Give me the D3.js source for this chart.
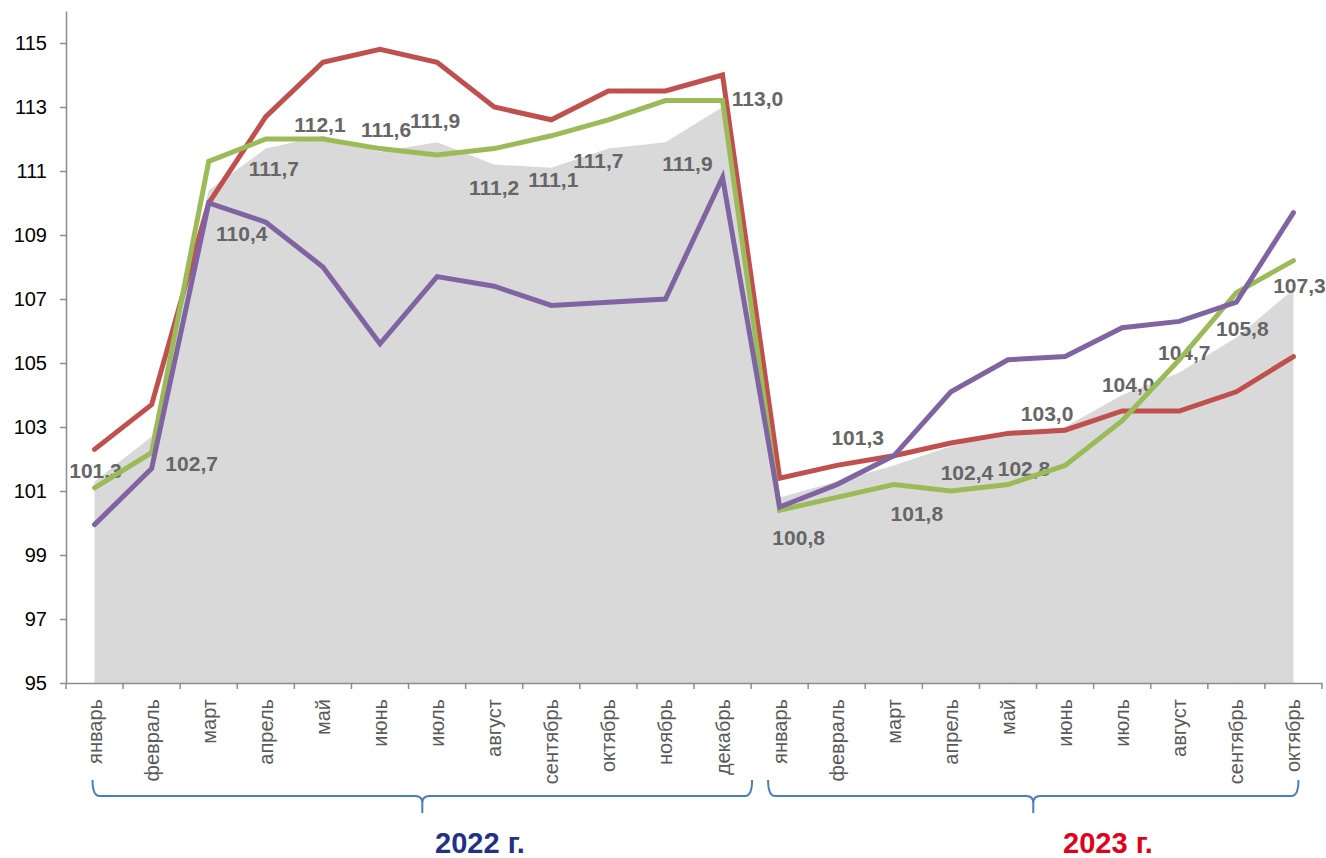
<!DOCTYPE html>
<html><head><meta charset="utf-8">
<script src="https://cdn.jsdelivr.net/npm/d3@7/dist/d3.min.js"></script>
<style>
html,body{margin:0;padding:0;background:#fff;}
svg{display:block;font-family:"Liberation Sans",Arial,sans-serif;}
</style></head>
<body><svg id="chart" width="1326" height="858"></svg>
<script>
const months2022 = ["январь","февраль","март","апрель","май","июнь","июль","август","сентябрь","октябрь","ноябрь","декабрь"];
const months2023 = ["январь","февраль","март","апрель","май","июнь","июль","август","сентябрь","октябрь"];
const years = ["2022 г.","2023 г."];
const areaValues = [101.3,102.7,110.4,111.7,112.1,111.6,111.9,111.2,111.1,111.7,111.9,113.0,
                    100.8,101.3,101.8,102.4,102.8,103.0,104.0,104.7,105.8,107.3];
const redValues = [102.3,103.7,110.0,112.7,114.4,114.8,114.4,113.0,112.6,113.5,113.5,114.0,
                   101.4,101.8,102.1,102.5,102.8,102.9,103.5,103.5,104.1,105.2];
const greenValues = [101.1,102.2,111.3,112.0,112.0,111.7,111.5,111.7,112.1,112.6,113.2,113.2,
                     100.4,100.8,101.2,101.0,101.2,101.8,103.2,105.1,107.2,108.2];
const purpleValues = [99.95,101.7,110.0,109.4,108.0,105.6,107.7,107.4,106.8,106.9,107.0,110.8,
                      100.5,101.2,102.1,104.1,105.1,105.2,106.1,106.3,106.9,109.7];
const yTicks = [95,97,99,101,103,105,107,109,111,113,115];

// label placement offsets (layout only)
const labelOffsets = [[1,-11],[40,27],[33,43],[8,20],[-3,-11],[6,-22],[-2,-22],[0,23],[2,12],[-10,12],[22,21],[35,-8],
  [19,40],[21,-44],[23,48],[16,26],[16,35],[-18,-13],[6,-10],[5,-20],[6,-9],[6,-4]];

const months = months2022.concat(months2023);
const idx = months.map((d,i)=>i);
const svg = d3.select("#chart");
const mLeft = 66, mRight = 1322, mTop = 11, mBottom = 683;

const x = d3.scaleBand().domain(idx).range([mLeft,mRight]).padding(0);
const cx = i => x(i) + x.bandwidth()/2;
const y = d3.scaleLinear().domain([95,116]).range([mBottom,mTop]);

// area
const area = d3.area().x((d,i)=>cx(i)).y0(y(95)).y1(d=>y(d));
svg.append("path").datum(areaValues).attr("d",area).attr("fill","#d9d9d9");

// data labels
const fmt = v => d3.format(".1f")(v).replace(".",",");
svg.append("g").selectAll("text").data(areaValues).join("text")
  .attr("x",(d,i)=>cx(i)+labelOffsets[i][0])
  .attr("y",(d,i)=>y(d)+labelOffsets[i][1])
  .attr("dy","0.35em").attr("text-anchor","middle")
  .attr("font-size",21).attr("font-weight","bold").attr("fill","#666666")
  .text(fmt);

// lines
const line = d3.line().x((d,i)=>cx(i)).y(d=>y(d));
[[redValues,"#c0504d"],[greenValues,"#9bbb59"],[purpleValues,"#8064a2"]].forEach(([vals,col])=>{
  svg.append("path").datum(vals).attr("d",line).attr("fill","none")
    .attr("stroke",col).attr("stroke-width",5).attr("stroke-linejoin","miter").attr("stroke-linecap","round");
});

// y axis
const yAxis = svg.append("g").attr("transform",`translate(${mLeft},0)`)
  .call(d3.axisLeft(y).tickValues(yTicks).tickSize(6).tickSizeOuter(0).tickPadding(13));
yAxis.select(".domain").attr("stroke","#8c8c8c").attr("stroke-width",1.5);
yAxis.selectAll(".tick line").attr("stroke","#8c8c8c").attr("stroke-width",1.5);
yAxis.selectAll(".tick text").attr("font-size",20).attr("fill","#000")
  .attr("font-family","'Liberation Sans',Arial,sans-serif");

// x axis
const xAxis = svg.append("g").attr("transform",`translate(0,${mBottom})`)
  .call(d3.axisBottom(x).tickSize(0).tickSizeOuter(0).tickFormat(i=>months[i]));
xAxis.select(".domain").attr("stroke","#8c8c8c").attr("stroke-width",1.5);
xAxis.selectAll(".tick text")
  .attr("transform","rotate(-90)")
  .attr("text-anchor","end").attr("x",-16).attr("y",0).attr("dy","0.35em")
  .attr("font-size",20).attr("fill","#595959")
  .attr("font-family","'Liberation Sans',Arial,sans-serif");
const bounds = idx.map(i=>x(i)).concat([mRight]);
xAxis.append("g").selectAll("line").data(bounds).join("line")
  .attr("x1",d=>d).attr("x2",d=>d).attr("y1",0).attr("y2",6)
  .attr("stroke","#8c8c8c").attr("stroke-width",1.5);

// braces
function brace(x1,x2){
  const m=(x1+x2)/2, yT=780, yL=796, yTip=813, r=7;
  return `M${x1},${yT} Q${x1},${yL} ${x1+r},${yL} L${m-r},${yL} Q${m},${yL} ${m},${yL+r} L${m},${yTip} `+
         `M${m},${yL+r} Q${m},${yL} ${m+r},${yL} L${x2-r},${yL} Q${x2},${yL} ${x2},${yT}`;
}
const b2022 = [cx(0)-2, x(12)+1];
const b2023 = [x(12)+17, cx(21)+5];
[b2022,b2023].forEach(b=>{
  svg.append("path").attr("d",brace(b[0],b[1])).attr("fill","none")
    .attr("stroke","#4a7ebb").attr("stroke-width",2);
});
svg.append("text").attr("x",480).attr("y",853).attr("text-anchor","middle")
  .attr("font-size",29).attr("font-weight","bold").attr("fill","#233088").text(years[0]);
svg.append("text").attr("x",1108).attr("y",853).attr("text-anchor","middle")
  .attr("font-size",29).attr("font-weight","bold").attr("fill","#e2001a").text(years[1]);
</script></body></html>
